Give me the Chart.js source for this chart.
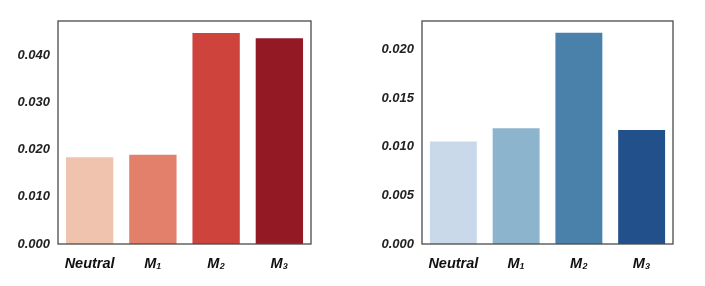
<!DOCTYPE html>
<html>
<head>
<meta charset="utf-8">
<script src="https://cdn.jsdelivr.net/npm/chart.js@4"></script>
<style>
  html, body { margin: 0; padding: 0; background: #fff; }
  body { width: 705px; height: 286px; position: relative; overflow: hidden; }
  .box { position: absolute; top: 0; height: 286px; }
</style>
</head>
<body>
<div class="box" id="b1" style="left:0px;width:330px;"><canvas id="c1"></canvas></div>
<div class="box" id="b2" style="left:360px;width:345px;"><canvas id="c2"></canvas></div>
<script>
const categories = ['Neutral', 'M\u2081', 'M\u2082', 'M\u2083'];
const leftValues = [0.0186, 0.0191, 0.0449, 0.0438];
const rightValues = [0.01065, 0.0120, 0.02182, 0.01182];
const leftTicks = [0, 0.01, 0.02, 0.03, 0.04];
const rightTicks = [0, 0.005, 0.01, 0.015, 0.02];
const leftColors = ['#f0c3ae', '#e2806b', '#ce443d', '#931a24'];
const rightColors = ['#cad9ea', '#8db4cd', '#4a81ab', '#22508a'];

const frame = {
  id: 'frame',
  afterDraw(chart) {
    const a = chart.chartArea, ctx = chart.ctx;
    ctx.save();
    ctx.strokeStyle = '#4a4a4a';
    ctx.lineWidth = 1.3;
    ctx.strokeRect(a.left, a.top, a.right - a.left, a.bottom - a.top);
    ctx.restore();
  }
};

function makeChart(id, values, colors, ticks, maxY, yWidth, padRight) {
  new Chart(document.getElementById(id), {
    type: 'bar',
    data: {
      labels: categories,
      datasets: [{
        data: values,
        backgroundColor: colors,
        borderColor: 'rgba(255,255,255,0.55)',
        borderWidth: 1,
        categoryPercentage: 1,
        barPercentage: 0.78
      }]
    },
    options: {
      responsive: true,
      maintainAspectRatio: false,
      animation: false,
      layout: { padding: { top: 21, right: padRight, left: 0, bottom: 0 } },
      plugins: { legend: { display: false }, tooltip: { enabled: false } },
      scales: {
        x: {
          offset: true,
          grid: { display: false, drawTicks: false },
          border: { display: false },
          ticks: {
            color: '#111',
            padding: 11,
            maxRotation: 0,
            font: { family: 'Liberation Sans', size: 14.5, weight: 'bold', style: 'italic' }
          },
          afterFit(s) { s.height = 42; }
        },
        y: {
          min: 0,
          max: maxY,
          grid: { display: false, drawTicks: false },
          border: { display: false },
          afterBuildTicks(s) { s.ticks = ticks.map(v => ({ value: v })); },
          ticks: {
            color: '#222',
            padding: 8,
            callback: (v) => Number(v).toFixed(3),
            font: { family: 'Liberation Sans', size: 13, weight: 'bold', style: 'italic' }
          },
          afterFit(s) { s.width = yWidth; }
        }
      }
    },
    plugins: [frame]
  });
}

makeChart('c1', leftValues, leftColors, leftTicks, 0.04725, 58, 19);
makeChart('c2', rightValues, rightColors, rightTicks, 0.02292, 62, 32);
</script>
</body>
</html>
